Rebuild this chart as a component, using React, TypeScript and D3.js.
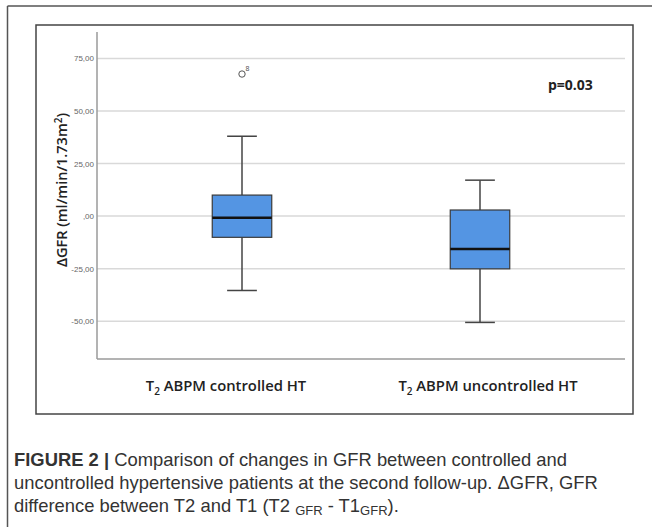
import React from "react";
import * as d3 from "d3";

const categories = ["controlled", "uncontrolled"];
const categoryLabels = [" ABPM controlled HT", " ABPM uncontrolled HT"];
const whiskerLow = [-35.4, -50.6];
const q1 = [-10.1, -25.1];
const medians = [-0.8, -15.6];
const q3 = [10, 2.9];
const whiskerHigh = [38, 17.1];
const outlierValues = [67.6];
const outlierGroups = ["controlled"];
const outlierLabels = ["8"];
const yTicks = [-50, -25, 0, 25, 50, 75];
const yDomain = [-68, 87.6];

const W = 652;
const H = 527;

function fmt(v: number) {
  if (v === 0) return ",00";
  return v.toFixed(2).replace(".", ",");
}

export default function App() {
  const y = d3.scaleLinear().domain(yDomain).range([359, 32]);
  const x = d3.scaleBand().domain(categories).range([123, 599]);
  const bw = x.bandwidth();
  const boxW = bw * 0.25;
  const capW = boxW * 0.5;
  const plotL = 97;
  const plotR = 625;
  const labelShift = [-16, 8];
  const labelFont = "'Open Sans', 'DejaVu Sans', sans-serif";
  const capFont = "'Liberation Sans', Arial, sans-serif";

  return (
    <svg
      width={W}
      height={H}
      style={{ position: "absolute", left: 0, top: 0, background: "#fff" }}
    >
      {/* outer frame */}
      <line x1={7.5} y1={6} x2={W} y2={6} stroke="#555" strokeWidth={1.5} />
      <line x1={7.5} y1={6} x2={7.5} y2={H} stroke="#555" strokeWidth={1.5} />
      {/* inner chart frame */}
      <rect x={36} y={25} width={597} height={389} fill="#fff" stroke="#444" strokeWidth={1.5} />

      {/* gridlines */}
      {yTicks.map((t) => (
        <line key={t} x1={plotL} x2={plotR} y1={y(t)} y2={y(t)} stroke="#d9d9d9" strokeWidth={1.5} />
      ))}
      {/* axes */}
      <line x1={plotL} x2={plotL} y1={32} y2={359} stroke="#9a9a9a" strokeWidth={1.5} />
      <line x1={plotL} x2={plotR} y1={359} y2={359} stroke="#9a9a9a" strokeWidth={1.5} />
      {yTicks.map((t) => (
        <text
          key={"l" + t}
          x={94}
          y={y(t) + 3}
          textAnchor="end"
          fontSize={8}
          fill="#666"
          fontFamily="'Liberation Sans Narrow', 'Liberation Sans', sans-serif"
        >
          {fmt(t)}
        </text>
      ))}

      {/* boxes */}
      {categories.map((c, i) => {
        const cx = (x(c) as number) + bw / 2;
        return (
          <g key={c}>
            <line x1={cx} x2={cx} y1={y(whiskerHigh[i])} y2={y(q3[i])} stroke="#444" strokeWidth={1.5} />
            <line x1={cx} x2={cx} y1={y(q1[i])} y2={y(whiskerLow[i])} stroke="#444" strokeWidth={1.5} />
            <line x1={cx - capW / 2} x2={cx + capW / 2} y1={y(whiskerHigh[i])} y2={y(whiskerHigh[i])} stroke="#444" strokeWidth={1.5} />
            <line x1={cx - capW / 2} x2={cx + capW / 2} y1={y(whiskerLow[i])} y2={y(whiskerLow[i])} stroke="#444" strokeWidth={1.5} />
            <rect
              x={cx - boxW / 2}
              y={y(q3[i])}
              width={boxW}
              height={y(q1[i]) - y(q3[i])}
              fill="#5495e3"
              stroke="#3a3a3a"
              strokeWidth={1.2}
            />
            <line x1={cx - boxW / 2} x2={cx + boxW / 2} y1={y(medians[i])} y2={y(medians[i])} stroke="#111" strokeWidth={2.5} />
            <text
              x={cx + labelShift[i]}
              y={391}
              textAnchor="middle"
              fontFamily={labelFont}
              fontSize={14.8}
              fontWeight={600}
              fill="#222"
            >
              T<tspan fontSize={10} dy={4}>2</tspan>
              <tspan dy={-4}>{categoryLabels[i]}</tspan>
            </text>
          </g>
        );
      })}

      {/* outliers */}
      {outlierValues.map((v, i) => {
        const cx = (x(outlierGroups[i]) as number) + bw / 2;
        return (
          <g key={"o" + i}>
            <circle cx={cx} cy={y(v)} r={3.2} fill="#fff" stroke="#555" strokeWidth={1} />
            <text x={cx + 3.5} y={y(v) - 3.5} fontSize={7} fill="#555" fontFamily="'Liberation Sans', sans-serif">
              {outlierLabels[i]}
            </text>
          </g>
        );
      })}

      {/* p value */}
      <text x={548} y={90} fontFamily={labelFont} fontWeight={700} fontSize={14} fill="#222">
        p=0.03
      </text>

      {/* y axis label */}
      <text
        transform={`translate(67,190) rotate(-90)`}
        textAnchor="middle"
        fontFamily={labelFont}
        fontSize={14.5}
        fontWeight={600}
        fill="#222"
      >
        ΔGFR (ml/min/1.73m<tspan fontSize={10} dy={-5}>2</tspan>
        <tspan dy={5}>)</tspan>
      </text>

      {/* caption */}
      <g fontFamily={capFont} fontSize={18.4} fill="#333">
        <text x={14} y={466}>
          <tspan fontWeight={700}>FIGURE 2 |</tspan> Comparison of changes in GFR between controlled and
        </text>
        <text x={14} y={489}>
          uncontrolled hypertensive patients at the second follow-up. ΔGFR, GFR
        </text>
        <text x={14} y={512}>
          difference between T2 and T1 (T2 <tspan fontSize={13} dy={3}>GFR</tspan>
          <tspan dy={-3}> - T1</tspan>
          <tspan fontSize={13} dy={3}>GFR</tspan>
          <tspan dy={-3}>).</tspan>
        </text>
      </g>
    </svg>
  );
}
